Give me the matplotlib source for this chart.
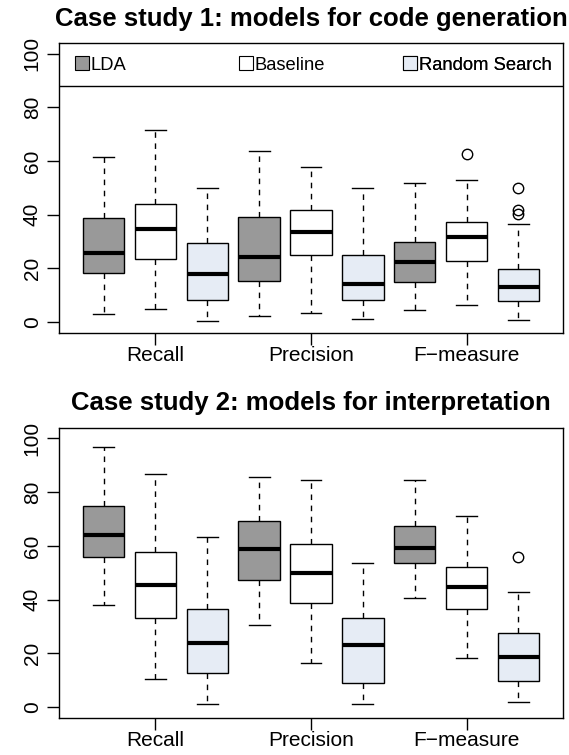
import matplotlib
matplotlib.use("Agg")
from matplotlib import pyplot as plt
from matplotlib.patches import Patch

plt.rcParams['font.family'] = ['Liberation Sans', 'DejaVu Sans']

metrics = ["Recall", "Precision", "F\u2212measure"]
methods = ["LDA", "Baseline", "Random Search"]
method_colors = ["#999999", "#FFFFFF", "#E6ECF5"]

# order: Recall (LDA, Baseline, RS), Precision (...), F-measure (...)
cs1_title = "Case study 1: models for code generation"
cs1_whislo = [3.1, 5.0, 0.4, 2.4, 3.5, 1.0, 4.3, 6.5, 0.7]
cs1_q1 = [18.1, 23.6, 8.3, 15.2, 25.0, 8.1, 14.9, 22.9, 7.7]
cs1_med = [25.7, 34.7, 18.0, 24.1, 33.4, 14.0, 22.4, 31.7, 13.2]
cs1_q3 = [38.8, 44.1, 29.3, 39.1, 41.6, 25.0, 29.8, 37.4, 19.9]
cs1_whishi = [61.4, 71.4, 49.9, 63.7, 57.6, 49.9, 51.8, 53.0, 36.4]
cs1_fliers = [[], [], [], [], [], [], [], [62.5], [49.9, 41.6, 40.4]]

cs2_title = "Case study 2: models for interpretation"
cs2_whislo = [38.1, 10.3, 1.1, 30.7, 16.4, 1.2, 40.4, 18.2, 1.9]
cs2_q1 = [56.0, 33.3, 12.8, 47.3, 38.6, 9.0, 53.5, 36.4, 9.8]
cs2_med = [63.9, 45.6, 23.9, 59.0, 49.9, 22.9, 59.3, 44.7, 18.5]
cs2_q3 = [75.0, 57.8, 36.3, 69.4, 60.8, 33.3, 67.5, 52.1, 27.4]
cs2_whishi = [96.9, 86.6, 63.2, 85.7, 84.6, 53.5, 84.7, 71.0, 43.0]
cs2_fliers = [[], [], [], [], [], [], [], [], [55.7]]

yticks = [0, 20, 40, 60, 80, 100]


def draw_panel(ax, title, whislo, q1, med, q3, whishi, fliers, legend=False):
    stats = []
    for i in range(len(med)):
        stats.append(dict(whislo=whislo[i], q1=q1[i], med=med[i], q3=q3[i],
                          whishi=whishi[i], fliers=fliers[i]))
    positions = list(range(1, len(stats) + 1))
    bp = ax.bxp(stats, positions=positions, widths=0.8, patch_artist=True,
                showfliers=True,
                boxprops=dict(edgecolor="black", linewidth=1.0),
                medianprops=dict(color="black", linewidth=3.0, solid_capstyle="butt"),
                whiskerprops=dict(color="black", linewidth=1.0, linestyle=(0, (4, 4))),
                capprops=dict(color="black", linewidth=1.0),
                flierprops=dict(marker="o", markerfacecolor="none",
                                markeredgecolor="black", markersize=7.5,
                                markeredgewidth=1.0))
    for i, box in enumerate(bp["boxes"]):
        box.set_facecolor(method_colors[i % 3])
    for cap in bp["caps"]:
        x0, x1 = cap.get_xdata()
        c = (x0 + x1) / 2
        cap.set_xdata([c - 0.2, c + 0.2])

    ax.set_xlim(0.14, 9.86)
    ax.set_ylim(-4, 104)
    ax.set_xticks([2, 5, 8])
    ax.set_xticklabels(metrics)
    ax.set_yticks(yticks)
    ax.set_yticklabels([str(v) for v in yticks], rotation=90, va="center")
    ax.tick_params(axis="both", labelsize=15, length=8.5, width=1.0,
                   direction="out", color="black")
    ax.tick_params(axis="x", pad=1)
    ax.tick_params(axis="y", pad=4)
    for s in ax.spines.values():
        s.set_linewidth(1.0)
        s.set_color("black")
    ax.set_title(title, fontsize=18.5, fontweight="bold", pad=12.5)

    if legend:
        ax.axhline(88, color="black", linewidth=1.0)
        starts = [0.032, 0.357, 0.683]
        for i, name in enumerate(methods):
            leg = ax.legend([Patch(facecolor=method_colors[i], edgecolor="black", linewidth=0.8)],
                            [name], loc="center left",
                            bbox_to_anchor=(starts[i], 0.924), frameon=False,
                            fontsize=13.2, handlelength=0.75, handleheight=0.75,
                            handletextpad=0.1, borderpad=0, borderaxespad=0)
            ax.add_artist(leg)


fig = plt.figure(figsize=(5.69, 7.55), dpi=100)
ax1 = fig.add_axes([0.1037, 0.5593, 0.8858, 0.3837])
ax2 = fig.add_axes([0.1037, 0.0494, 0.8858, 0.3841])

draw_panel(ax1, cs1_title, cs1_whislo, cs1_q1, cs1_med, cs1_q3, cs1_whishi, cs1_fliers, legend=True)
draw_panel(ax2, cs2_title, cs2_whislo, cs2_q1, cs2_med, cs2_q3, cs2_whishi, cs2_fliers)

fig.savefig("out.png", dpi=100)
